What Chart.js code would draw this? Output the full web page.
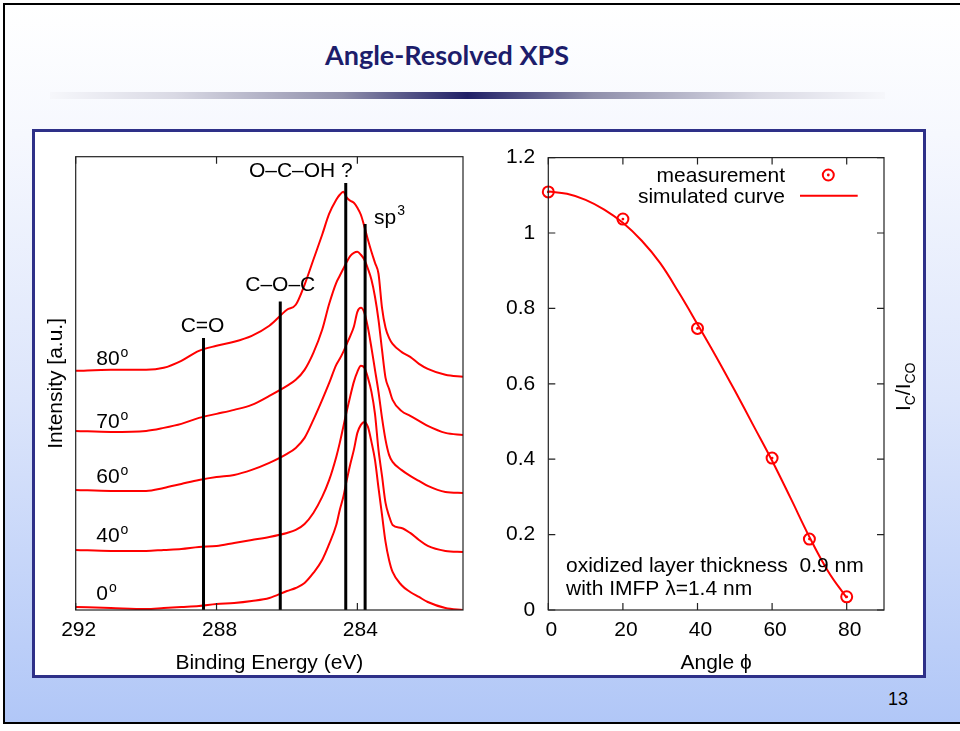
<!DOCTYPE html>
<html lang="en">
<head>
<meta charset="UTF-8">
<title>Angle-Resolved XPS</title>
<script src="https://cdn.jsdelivr.net/npm/chart.js"></script>
<style>
    html, body { margin: 0; padding: 0; background: #fff; }
    body { width: 960px; height: 731px; position: relative; overflow: hidden; }
    #slide {
        position: absolute; left: 3px; top: 3px; width: 990px; height: 721px;
        box-sizing: border-box; border: 2px solid #000; border-right: none;
        background: linear-gradient(to bottom, #ffffff 0%, #f6f8fe 18%, #dce5fb 55%, #b1c7f7 100%);
    }
    #title {
        position: absolute; left: 0; top: 37px; width: 894px; text-align: center;
        font: bold 27px Lato, 'Open Sans', sans-serif; line-height: 36px; color: #1d1d6b;
    }
    #bar {
        position: absolute; left: 50px; top: 92px; width: 835px; height: 7px;
        background: linear-gradient(to right, #f6f7fb 0%, #d9d9e4 15%, #8f8fab 35%, #1f1f66 50%, #8f8fab 65%, #d9d9e4 85%, #f6f7fb 100%);
    }
    #box {
        position: absolute; left: 32px; top: 129px; width: 894px; height: 549px;
        box-sizing: border-box; border: 3px solid #2e3088; background: #fff;
    }
    canvas { position: absolute; }
    #xps { left: 33px; top: 132px; }
    #ratio { left: 480px; top: 132px; }
    #num {
        position: absolute; left: 880px; top: 690px; width: 28px; text-align: right;
        font: 18px 'Liberation Sans', Arial, sans-serif; line-height: 18px; color: #000;
    }
</style>
</head>
<body>
<div id="slide"></div>
<div id="title">Angle-Resolved XPS</div>
<div id="bar"></div>
<div id="box"></div>
<canvas id="xps" width="440" height="544"></canvas>
<canvas id="ratio" width="444" height="544"></canvas>
<div id="num">13</div>

<script>
    // C 1s spectra (intensity in arbitrary units)
    const energies = [292, 291, 290, 289.5, 289, 288.5, 288, 287.5, 287, 286.5,
        286, 285.75, 285.5, 285.25, 285,
        284.8, 284.6, 284.5, 284.4, 284.3, 284.2, 284.1, 284.0,
        283.9, 283.8, 283.7, 283.6, 283.5, 283.4, 283.3, 283.2, 283.1, 283.0,
        282.75, 282.5, 282.25, 282, 281.5, 281];
    const int80 = [239, 240, 240, 242, 249, 259, 264, 268, 274, 284,
        300, 305, 325, 350, 375,
        396, 410, 415, 418, 412, 409, 407, 402,
        395, 383, 370, 358, 347, 336, 302, 282, 272, 266,
        258, 253, 246, 241, 235, 233];
    const int70 = [179, 178, 179, 182, 186, 192, 196, 200, 205, 214,
        224, 230, 240, 257, 280,
        306, 327, 334, 341, 348, 354, 357, 358,
        355, 350, 341, 330, 313, 290, 260, 232, 221, 210,
        199, 194, 189, 184, 177, 175];
    const int60 = [120, 119, 119, 122, 126, 130, 133, 135, 140, 147,
        156, 162, 172, 190, 210,
        227, 245, 251, 258, 266, 274, 283, 298,
        302, 297, 282, 262, 240, 218, 192, 170, 155, 148,
        140, 134, 129, 124, 118, 117];
    const int40 = [60, 59, 59, 60, 61, 63, 64, 67, 70, 73,
        77, 80, 86, 97, 113,
        130, 153, 167, 183, 199, 214, 228, 238,
        244, 242, 232, 218, 196, 160, 134, 107, 94, 85,
        82, 77, 70, 64, 59, 58];
    const int0 = [3, 2, 1, 2, 3, 4, 6, 7, 9, 12,
        19, 22, 27, 37, 50,
        66, 85, 100, 113, 130, 146, 160, 177,
        185, 188, 183, 168, 150, 122, 95, 68, 50, 38,
        25, 18, 13, 8, 2, 0];
    const angleLabels = ['80', '70', '60', '40', '0'];
    const energyTicks = [292, 288, 284];

    // chemical shift markers: energy and height of the bar
    const peakNames = ['C=O', 'C\u2013O\u2013C', 'O\u2013C\u2013OH ?', 'sp'];
    const peakEnergies = [288.37, 286.19, 284.33, 283.78];
    const peakTops = [271.7, 308.3, 426.7, 385.7];

    // intensity ratio vs emission angle
    const angles = [0, 20, 40, 60, 70, 80];
    const ratioMeasured = [1.109, 1.037, 0.747, 0.403, 0.188, 0.035];
    const simAngles = [0, 5, 10, 15, 20, 25, 30, 35, 40, 45, 50, 55, 60, 65, 70, 75, 80];
    const ratioSimulated = [1.110, 1.104, 1.088, 1.062, 1.027, 0.980, 0.920, 0.842, 0.758,
        0.672, 0.582, 0.489, 0.396, 0.296, 0.194, 0.103, 0.032];
    const angleTicks = [0, 20, 40, 60, 80];
    const ratioTicks = [0, 0.2, 0.4, 0.6, 0.8, 1, 1.2];

    const FONT = "'Liberation Sans', Arial, Helvetica, sans-serif";
    const RED = '#ff0000';
    Chart.defaults.font.family = FONT;
    Chart.defaults.font.size = 21;
    Chart.defaults.color = '#000';

    // text with a raised small part, e.g. 80 + o, sp + 3
    function drawSup(ctx, base, sup, x, y, raise) {
        ctx.font = '21px ' + FONT;
        ctx.fillText(base, x, y);
        const w = ctx.measureText(base).width;
        ctx.font = '14px ' + FONT;
        ctx.fillText(sup, x + w + 1, y - raise);
    }

    function drawFrame(ctx, a, xScale, yScale, xt, yt) {
        ctx.strokeStyle = '#222';
        ctx.lineWidth = 1.2;
        ctx.strokeRect(a.left, a.top, a.right - a.left, a.bottom - a.top);
        ctx.beginPath();
        xt.forEach(v => {
            const px = xScale.getPixelForValue(v);
            ctx.moveTo(px, a.bottom); ctx.lineTo(px, a.bottom - 7);
            ctx.moveTo(px, a.top); ctx.lineTo(px, a.top + 7);
        });
        yt.forEach(v => {
            const py = yScale.getPixelForValue(v);
            ctx.moveTo(a.left, py); ctx.lineTo(a.left + 7, py);
            ctx.moveTo(a.right, py); ctx.lineTo(a.right - 7, py);
        });
        ctx.stroke();
    }

    const xpsDecor = {
        id: 'xpsDecor',
        afterDatasetsDraw(chart) {
            const {ctx, chartArea: a, scales: {x, y}} = chart;
            ctx.save();
            drawFrame(ctx, a, x, y, energyTicks, []);
            ctx.fillStyle = '#000';
            ctx.textBaseline = 'alphabetic';
            ctx.textAlign = 'left';
            // angle labels sit just above the left end of each curve
            const labelLevels = [245, 182, 127, 68, 10];
            angleLabels.forEach((t, i) => {
                drawSup(ctx, t, 'o', a.left + 20.5, y.getPixelForValue(labelLevels[i]), 7.7);
            });
            // marker names
            const px = peakEnergies.map(e => x.getPixelForValue(e));
            const py = peakTops.map(v => y.getPixelForValue(v));
            ctx.font = '21px ' + FONT;
            ctx.textAlign = 'center';
            ctx.fillText(peakNames[0], px[0] - 1, py[0] - 6.6);
            ctx.fillText(peakNames[1], px[1], py[1] - 10.7);
            ctx.textAlign = 'right';
            ctx.fillText(peakNames[2], px[2] + 7, py[2] - 6);
            ctx.textAlign = 'left';
            drawSup(ctx, peakNames[3], '3', px[3] + 9, py[3], 9.2);
            ctx.restore();
        }
    };

    const xyPairs = (xs, ys) => xs.map((v, i) => ({x: v, y: ys[i]}));

    const curveSets = [int80, int70, int60, int40, int0].map((vals, i) => ({
        label: angleLabels[i] + '\u00b0',
        data: xyPairs(energies, vals),
        borderColor: RED,
        borderWidth: 2,
        pointRadius: 0,
        cubicInterpolationMode: 'monotone',
        order: 2
    }));
    const markerSets = peakEnergies.map((e, i) => ({
        label: peakNames[i],
        data: [{x: e, y: 0}, {x: e, y: peakTops[i]}],
        borderColor: '#000',
        borderWidth: 3,
        pointRadius: 0,
        order: 1
    }));

    new Chart(document.getElementById('xps'), {
        type: 'line',
        data: {datasets: [...markerSets, ...curveSets]},
        options: {
            responsive: false,
            animation: false,
            devicePixelRatio: 1,
            layout: {padding: {left: 0, right: 10, top: 24.7, bottom: 0}},
            plugins: {legend: {display: false}, tooltip: {enabled: false}},
            scales: {
                x: {
                    type: 'linear',
                    min: 281,
                    max: 292,
                    reverse: true,
                    afterBuildTicks: s => { s.ticks = energyTicks.map(v => ({value: v})); },
                    afterFit: s => { s.height = 66; },
                    grid: {display: false, drawTicks: false},
                    border: {display: false},
                    ticks: {padding: 8, labelOffset: 3, maxRotation: 0, autoSkip: false},
                    title: {display: true, text: 'Binding Energy (eV)', padding: 0}
                },
                y: {
                    min: 0,
                    max: 453,
                    afterFit: s => { s.width = 42.7; },
                    grid: {display: false, drawTicks: false},
                    border: {display: false},
                    ticks: {display: false},
                    title: {display: true, text: 'Intensity [a.u.]', padding: {top: 11, bottom: 0}}
                }
            }
        },
        plugins: [xpsDecor]
    });

    const ratioDecor = {
        id: 'ratioDecor',
        afterDatasetsDraw(chart) {
            const {ctx, chartArea: a, scales: {x, y}} = chart;
            const ds = chart.data.datasets;
            ctx.save();
            drawFrame(ctx, a, x, y, angleTicks, ratioTicks);

            // legend: text right aligned, sample on the right
            ctx.fillStyle = '#000';
            ctx.font = '21px ' + FONT;
            ctx.textAlign = 'right';
            ctx.textBaseline = 'alphabetic';
            ctx.fillText(ds[1].label, 305, 49.7);
            ctx.fillText(ds[0].label, 305, 71.3);
            ctx.strokeStyle = RED;
            ctx.lineWidth = 2;
            ctx.beginPath();
            ctx.arc(348.3, 43, 5.5, 0, Math.PI * 2);
            ctx.stroke();
            ctx.fillStyle = RED;
            ctx.beginPath();
            ctx.arc(348.3, 43, 1.4, 0, Math.PI * 2);
            ctx.fill();
            ctx.beginPath();
            ctx.moveTo(320, 63.7);
            ctx.lineTo(377.7, 63.7);
            ctx.stroke();

            // note inside the plot
            ctx.fillStyle = '#000';
            ctx.textAlign = 'left';
            ctx.fillText('oxidized layer thickness  0.9 nm', a.left + 17.7, 439.7);
            ctx.fillText('with IMFP \u03bb=1.4 nm', a.left + 17.7, 463);

            // right axis title I_C / I_CO
            const parts = [['I', 21, 0], ['C', 14, 5], ['/I', 21, 0], ['CO', 14, 5]];
            let total = 0;
            parts.forEach(p => { ctx.font = p[1] + 'px ' + FONT; total += ctx.measureText(p[0]).width; });
            ctx.translate(a.right + 26, (a.top + a.bottom) / 2 + 3);
            ctx.rotate(-Math.PI / 2);
            let cx = -total / 2;
            parts.forEach(p => {
                ctx.font = p[1] + 'px ' + FONT;
                ctx.fillText(p[0], cx, p[2]);
                cx += ctx.measureText(p[0]).width;
            });
            ctx.restore();
        }
    };

    new Chart(document.getElementById('ratio'), {
        type: 'line',
        data: {
            datasets: [
                {
                    label: 'simulated curve',
                    data: xyPairs(simAngles, ratioSimulated),
                    borderColor: RED,
                    borderWidth: 2,
                    pointRadius: 0,
                    tension: 0.4
                },
                {
                    label: 'measurement',
                    data: xyPairs(angles, ratioMeasured),
                    showLine: false,
                    pointStyle: 'circle',
                    pointRadius: 5.5,
                    pointBorderWidth: 2,
                    pointBorderColor: RED,
                    pointBackgroundColor: 'rgba(0,0,0,0)',
                    clip: false
                },
                {
                    label: 'measurement centre',
                    data: xyPairs(angles, ratioMeasured),
                    showLine: false,
                    pointRadius: 1.4,
                    pointBorderWidth: 0,
                    pointBackgroundColor: RED,
                    clip: false
                }
            ]
        },
        options: {
            responsive: false,
            animation: false,
            devicePixelRatio: 1,
            layout: {padding: {left: 0, right: 40, top: 24.7, bottom: 0}},
            plugins: {legend: {display: false}, tooltip: {enabled: false}},
            scales: {
                x: {
                    type: 'linear',
                    min: 0,
                    max: 90,
                    afterBuildTicks: s => { s.ticks = angleTicks.map(v => ({value: v})); },
                    afterFit: s => { s.height = 66; },
                    grid: {display: false, drawTicks: false},
                    border: {display: false},
                    ticks: {padding: 8, labelOffset: 3, maxRotation: 0, autoSkip: false},
                    title: {display: true, text: 'Angle \u03d5', padding: 0}
                },
                y: {
                    min: 0,
                    max: 1.2,
                    afterBuildTicks: s => { s.ticks = ratioTicks.map(v => ({value: v})); },
                    afterFit: s => { s.width = 68.3; },
                    grid: {display: false, drawTicks: false},
                    border: {display: false},
                    ticks: {padding: 13, callback: v => String(v)}
                }
            }
        },
        plugins: [ratioDecor]
    });
</script>
</body>
</html>
